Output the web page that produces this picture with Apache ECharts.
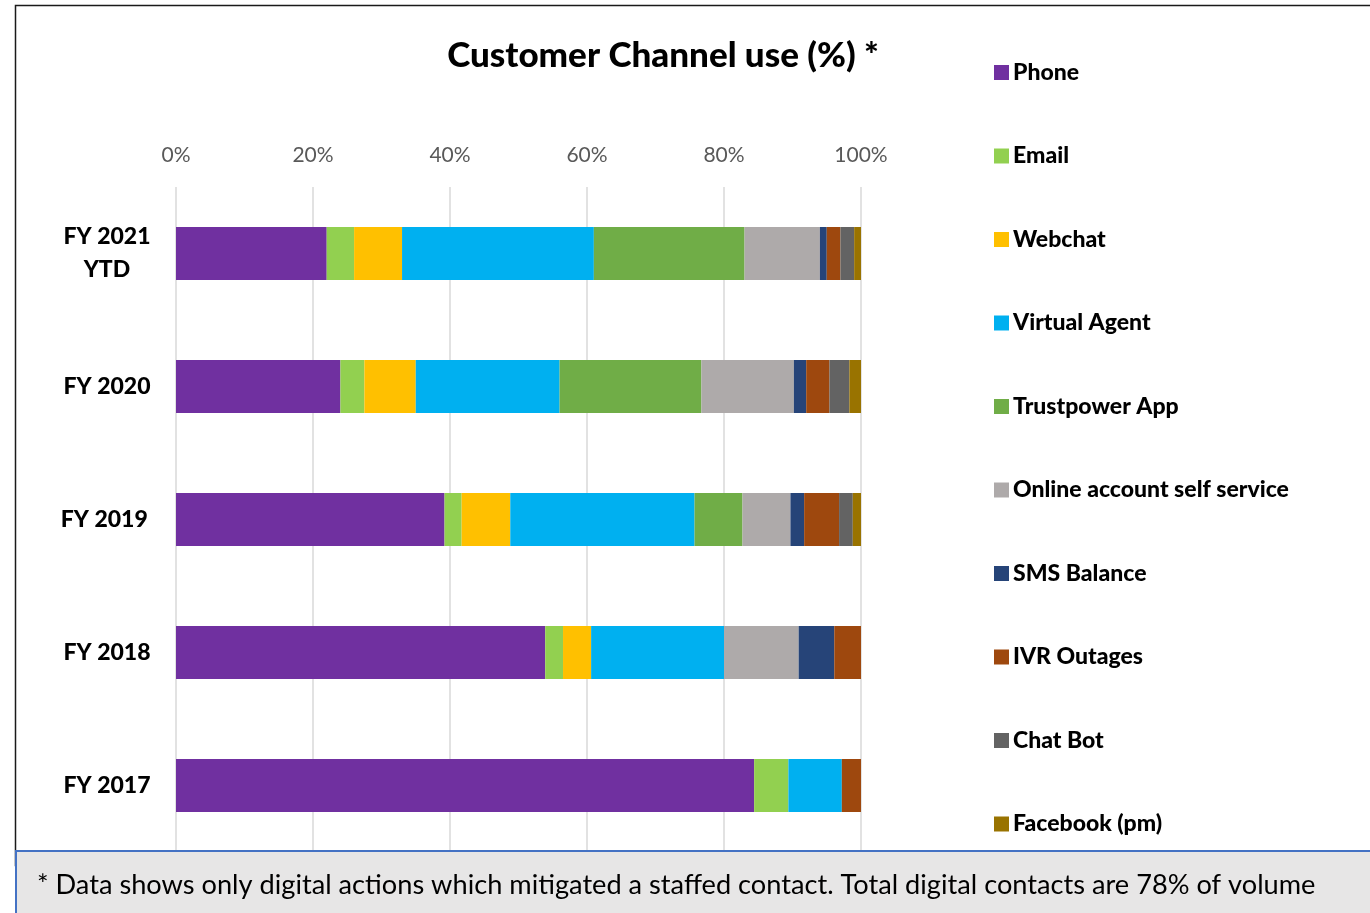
<!DOCTYPE html>
<html>
<head>
<meta charset="utf-8">
<script src="https://cdn.jsdelivr.net/npm/echarts@6/dist/echarts.min.js"></script>
<style>
  html, body { margin: 0; padding: 0; background: #ffffff; }
  #chart { width: 1370px; height: 913px; }
</style>
</head>
<body>
<div id="chart"></div>
<script>
// Fiscal years, top to bottom
const years = ['FY 2021\nYTD', 'FY 2020', 'FY 2019 ', 'FY 2018', 'FY 2017'];

// Share of customer contacts per channel (%), one value per year above
const phone         = [22.0, 24.0, 39.2, 53.9, 84.4];
const email         = [4.0, 3.5, 2.5, 2.6, 5.0];
const webchat       = [7.0, 7.5, 7.1, 4.1, 0];
const virtualAgent  = [28.0, 21.0, 26.9, 19.4, 7.8];
const trustpowerApp = [22.0, 20.7, 7.0, 0, 0];
const onlineAccount = [11.0, 13.5, 7.0, 10.9, 0];
const smsBalance    = [1.0, 1.8, 2.0, 5.2, 0];
const ivrOutages    = [2.0, 3.4, 5.1, 3.9, 2.8];
const chatBot       = [2.0, 2.9, 2.0, 0, 0];
const facebook      = [1.0, 1.7, 1.2, 0, 0];

const channelNames = ['Phone', 'Email', 'Webchat', 'Virtual Agent', 'Trustpower App',
  'Online account self service', 'SMS Balance', 'IVR Outages', 'Chat Bot', 'Facebook (pm)'];
const channelData = [phone, email, webchat, virtualAgent, trustpowerApp,
  onlineAccount, smsBalance, ivrOutages, chatBot, facebook];
const channelColors = ['#7030a0', '#92d050', '#ffc000', '#00b0f0', '#70ad47',
  '#aeaaaa', '#264478', '#9e480e', '#636363', '#997300'];

// Percent axis ticks
const percentTicks = { min: 0, max: 100, interval: 20 };

const FONT = 'Lato, "Open Sans", sans-serif';
const HEAVY = 900;

const chart = echarts.init(document.getElementById('chart'), null, { renderer: 'canvas' });

chart.setOption({
  animation: false,
  backgroundColor: '#ffffff',
  color: channelColors,
  title: {
    text: 'Customer Channel use (%) *',
    left: 658,
    top: 33,
    textAlign: 'center',
    textStyle: { fontFamily: FONT, fontWeight: HEAVY, fontSize: 35, color: '#000000' }
  },
  legend: {
    orient: 'vertical',
    left: 994,
    top: 61,
    padding: 0,
    itemWidth: 15,
    itemHeight: 15,
    itemGap: 60.5,
    icon: 'rect',
    data: channelNames,
    textStyle: { fontFamily: FONT, fontWeight: HEAVY, fontSize: 23, lineHeight: 20, color: '#000000', padding: [0, 0, 0, -1] }
  },
  grid: { left: 176, right: 509, top: 187, bottom: 61, containLabel: false },
  xAxis: {
    type: 'value',
    position: 'top',
    min: percentTicks.min,
    max: percentTicks.max,
    interval: percentTicks.interval,
    axisLine: { show: false },
    axisTick: { show: false },
    axisLabel: { formatter: '{value}%', fontFamily: FONT, fontSize: 21, color: '#595959', margin: 21 },
    splitLine: { lineStyle: { color: '#d9d9d9', width: 1.5 } }
  },
  yAxis: {
    type: 'category',
    inverse: true,
    data: years,
    axisLine: { show: false },
    axisTick: { show: false },
    axisLabel: {
      fontFamily: FONT, fontWeight: HEAVY, fontSize: 23, color: '#000000',
      align: 'center', margin: 69, lineHeight: 33
    }
  },
  series: channelNames.map((name, i) => ({
    name: name,
    type: 'bar',
    stack: 'share',
    barWidth: 53,
    data: channelData[i],
    itemStyle: { color: channelColors[i] },
    emphasis: { disabled: true }
  })),
  graphic: [
    {
      type: 'rect',
      z: -10,
      silent: true,
      shape: { x: 15.5, y: 5.5, width: 1400, height: 860 },
      style: { fill: 'none', stroke: '#1a1a1a', lineWidth: 1.5 }
    },
    {
      type: 'rect',
      z: 100,
      silent: true,
      shape: { x: 16, y: 851, width: 1400, height: 80 },
      style: { fill: '#e7e6e6', stroke: '#4472c4', lineWidth: 2 }
    },
    {
      type: 'text',
      z: 101,
      silent: true,
      left: 37,
      top: 872,
      style: {
        text: '* Data shows only digital actions which mitigated a staffed contact. Total digital contacts are 78% of volume',
        font: '27.2px ' + FONT,
        fill: '#000000'
      }
    }
  ]
});
</script>
</body>
</html>
